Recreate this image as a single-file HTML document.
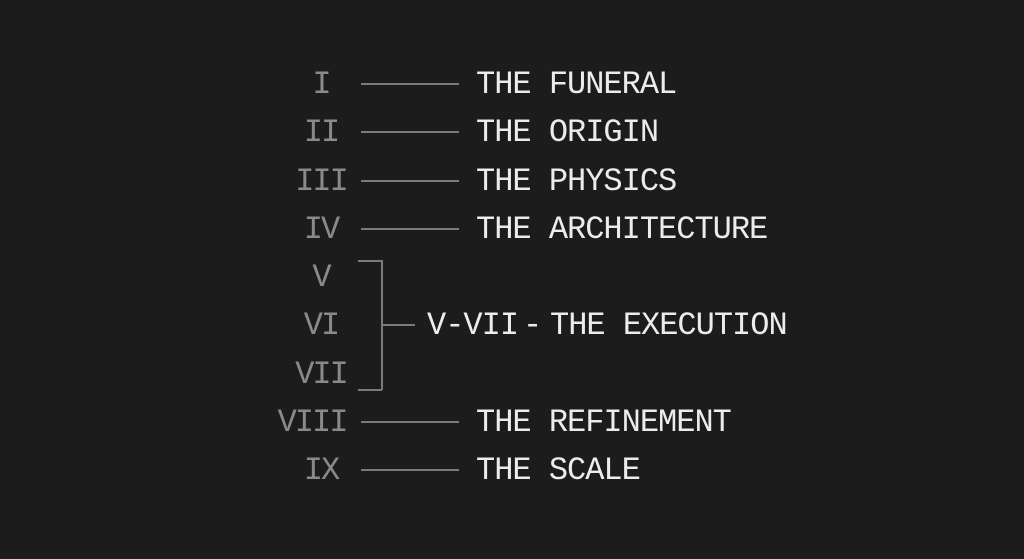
<!DOCTYPE html>
<html><head><meta charset="utf-8"><style>
html,body{margin:0;padding:0}
body{width:1024px;height:559px;background:#1c1c1c;position:relative;overflow:hidden;font-family:"Liberation Mono","DejaVu Sans Mono",monospace;}
.t{position:absolute;font-size:32px;letter-spacing:-1px;color:#ececec;line-height:34px;white-space:pre;transform:translateY(-50%);margin-top:1px}
.n{position:absolute;font-size:32px;letter-spacing:-2px;color:#8a8a8a;line-height:34px;width:100px;text-align:center;left:271px;transform:translateY(-50%);margin-top:1px}
.l{position:absolute;height:1.5px;background:#7a7a7a}
</style></head><body>
<div class="n" style="top:84px">I</div><div class="l" style="left:361px;width:98px;top:83px"></div><div class="t" style="left:476px;top:84px">THE FUNERAL</div>
<div class="n" style="top:132px">II</div><div class="l" style="left:361px;width:98px;top:131px"></div><div class="t" style="left:476px;top:132px">THE ORIGIN</div>
<div class="n" style="top:181px">III</div><div class="l" style="left:361px;width:98px;top:180px"></div><div class="t" style="left:476px;top:181px">THE PHYSICS</div>
<div class="n" style="top:229px">IV</div><div class="l" style="left:361px;width:98px;top:228px"></div><div class="t" style="left:476px;top:229px">THE ARCHITECTURE</div>
<div class="n" style="top:277px">V</div>
<div class="n" style="top:325px">VI</div>
<div class="n" style="top:374px">VII</div>
<div class="l" style="left:358px;width:24px;top:260px"></div>
<div class="l" style="left:358px;width:24px;top:389px"></div>
<div class="l" style="left:381px;width:1.5px;height:130px;top:260px"></div>
<div class="l" style="left:381px;width:34px;top:324px"></div>
<div class="t" style="left:427px;top:325px">V-VII</div>
<div class="t" style="left:523px;top:325px">-</div>
<div class="t" style="left:550px;top:325px">THE EXECUTION</div>
<div class="n" style="top:422px;left:262px">VIII</div><div class="l" style="left:361px;width:98px;top:421px"></div><div class="t" style="left:476px;top:422px">THE REFINEMENT</div>
<div class="n" style="top:470px">IX</div><div class="l" style="left:361px;width:98px;top:469px"></div><div class="t" style="left:476px;top:470px">THE SCALE</div>
</body></html>
